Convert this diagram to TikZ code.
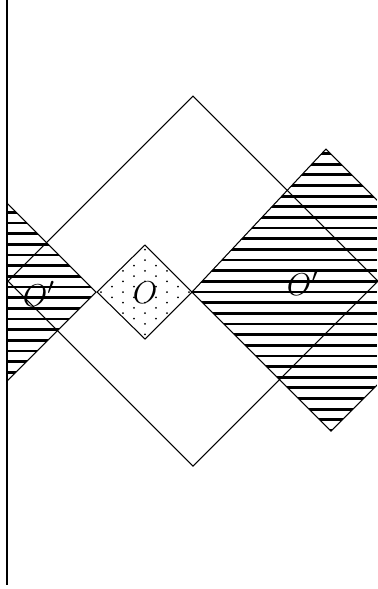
\documentclass[tikz,border=0pt]{standalone}
\begin{document}
\begin{tikzpicture}[x=0.38pt,y=-0.38pt,
  thinline/.style={line width=0.4pt},
  hatchline/.style={line width=1.05pt},
  dotmark/.style={fill=black},
  lbl/.style={font=\fontsize{13}{15}\selectfont, inner sep=0pt}]
\useasboundingbox (0,0) rectangle (377,589);
% right hatched region
\begin{scope}
  \clip (7,0) rectangle (377,589);
  \clip (192,292) -- (326,149) -- (469.5,292.5) -- (331,431) -- cycle;
  \foreach \k in {-14,...,14}
    \draw[hatchline] (180,{292+10.65*\k}) -- (480,{292+10.65*\k});
\end{scope}
% left hatched region
\begin{scope}
  \clip (7,0) rectangle (377,589);
  \clip (96,292) -- (-60,136) -- (-60,448) -- cycle;
  \foreach \k in {-10,...,10}
    \draw[hatchline] (0,{287+10.65*\k}) -- (100,{287+10.65*\k});
\end{scope}
% dots in O
\begin{scope}
  \clip (145,245) -- (192,292) -- (145,339) -- (97,292) -- cycle;
  \foreach \m in {-5,...,5}
    \foreach \n in {-10,...,10}{
      \pgfmathtruncatemacro\s{abs(\m+\n)}
      \pgfmathtruncatemacro\z{abs(\m)+abs(\n)}
      \ifodd\s\else\ifnum\z>0
        \fill[dotmark] ({145+11*\m},{292+5.3*\n}) circle (1.0);
      \fi\fi
    }
\end{scope}
% outlines
\draw[thinline] (7,0) -- (7,585);
\draw[thinline] (193,96) -- (378,281) -- (193,466) -- (8,281) -- cycle;
\draw[thinline] (145,245) -- (192,292) -- (145,339) -- (97,292) -- cycle;
\begin{scope}
  \clip (7,0) rectangle (377,589);
  \draw[thinline] (192,292) -- (326,149) -- (469.5,292.5) -- (331,431) -- cycle;
  \draw[thinline] (7,203) -- (96,292) -- (7,381);
\end{scope}
% labels
\node[lbl] (O) at (145,293) {$O$};
\node[lbl] (Oright) at (303,283) {$O'$};
\node[lbl] (Oleft) at (39,294) {$O'$};
\end{tikzpicture}
\end{document}
